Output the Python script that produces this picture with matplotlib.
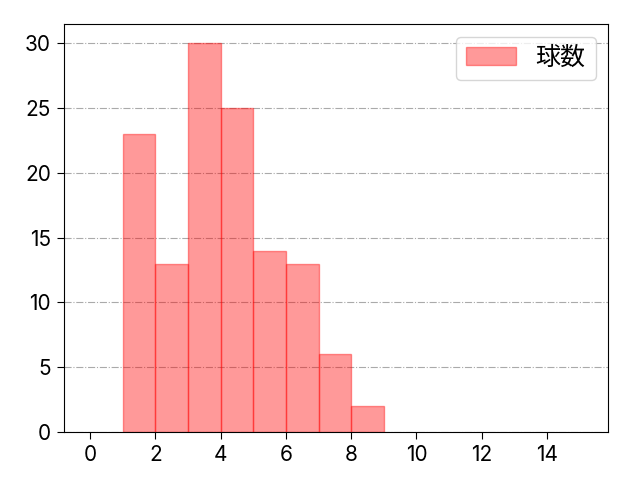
import matplotlib
matplotlib.use("Agg")
import matplotlib.pyplot as plt

plt.rcParams['font.family'] = ['Inter', 'Noto Sans CJK JP', 'DejaVu Sans']

# histogram bins and counts
bin_edges = [1, 2, 3, 4, 5, 6, 7, 8, 9]
counts = [23, 13, 30, 25, 14, 13, 6, 2]
label = "球数"

fig = plt.figure(figsize=(6.4, 4.8), dpi=100)
ax = fig.add_axes([0.1, 0.1, 0.85, 0.85])

ax.hist(bin_edges[:-1], bins=bin_edges, weights=counts,
        color="red", alpha=0.4, edgecolor="red", linewidth=1, label=label)

ax.set_xlim(-0.8, 15.87)
ax.set_ylim(0, 31.5)
ax.set_xticks(range(0, 15, 2))
ax.set_yticks(range(0, 31, 5))
ax.tick_params(labelsize=15, length=5, pad=4.5)
ax.grid(axis="y", linestyle="-.", color="#aaaaaa", linewidth=0.8)
ax.set_axisbelow(True)
ax.legend(fontsize=18, loc="upper right")

fig.savefig("out.png", dpi=100)
